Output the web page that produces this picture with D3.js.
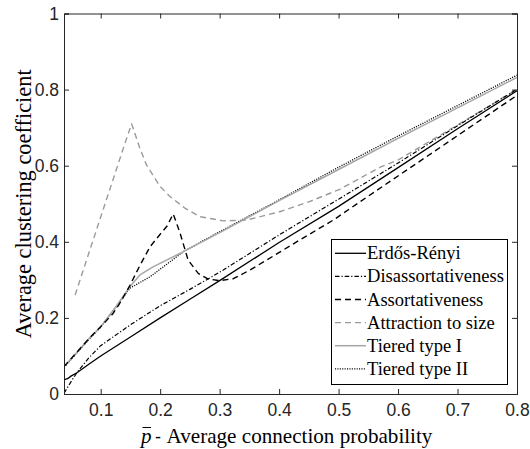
<!DOCTYPE html>
<html>
<head>
<meta charset="utf-8">
<script src="https://cdn.jsdelivr.net/npm/d3@7"></script>
<style>
  html, body { margin: 0; padding: 0; background: #fff; }
  svg { display: block; }
</style>
</head>
<body>
<svg id="chart" width="530" height="449"></svg>
<script>
// Average clustering coefficient against average connection probability
const xTicks = [0.1, 0.2, 0.3, 0.4, 0.5, 0.6, 0.7, 0.8];
const yTicks = [0, 0.2, 0.4, 0.6, 0.8, 1];
const xTickLabels = ["0.1", "0.2", "0.3", "0.4", "0.5", "0.6", "0.7", "0.8"];
const yTickLabels = ["0", "0.2", "0.4", "0.6", "0.8", "1"];

const seriesNames = ["Erdős-Rényi", "Disassortativeness", "Assortativeness",
                     "Attraction to size", "Tiered type I", "Tiered type II"];

const erP = [0.0383, 0.045, 0.05, 0.06, 0.08, 0.1, 0.15, 0.2, 0.25, 0.3, 0.4, 0.5, 0.6, 0.7, 0.8];
const erC = [0.037, 0.041, 0.047, 0.056, 0.078, 0.1, 0.15, 0.2, 0.249, 0.298, 0.398, 0.493, 0.595, 0.697, 0.797];

const disP = [0.0383, 0.05, 0.06, 0.08, 0.1, 0.15, 0.2, 0.25, 0.3, 0.4, 0.5, 0.6, 0.7, 0.8];
const disC = [0.002, 0.032, 0.056, 0.095, 0.127, 0.182, 0.232, 0.275, 0.32, 0.418, 0.512, 0.607, 0.705, 0.801];

const assP = [0.0383, 0.06, 0.08, 0.1, 0.12, 0.13, 0.14, 0.149, 0.165, 0.183, 0.2, 0.211, 0.222,
              0.233, 0.247, 0.264, 0.281, 0.3, 0.323, 0.35, 0.379, 0.435, 0.491, 0.55, 0.6, 0.7, 0.8];
const assC = [0.072, 0.11, 0.145, 0.177, 0.21, 0.233, 0.26, 0.285, 0.335, 0.387, 0.42, 0.44, 0.473,
              0.425, 0.352, 0.317, 0.302, 0.298, 0.303, 0.325, 0.352, 0.405, 0.457, 0.52, 0.573, 0.679, 0.785];

const attP = [0.057, 0.08, 0.1, 0.12, 0.14, 0.152, 0.165, 0.177, 0.2, 0.2165, 0.242, 0.267, 0.306,
              0.345, 0.401, 0.45, 0.502, 0.57, 0.6, 0.7, 0.8];
const attC = [0.26, 0.37, 0.465, 0.56, 0.655, 0.71, 0.65, 0.602, 0.545, 0.519, 0.488, 0.466, 0.455,
              0.457, 0.479, 0.505, 0.538, 0.596, 0.615, 0.707, 0.801];

const t1P = [0.0383, 0.06, 0.08, 0.1, 0.125, 0.149, 0.166, 0.188, 0.239, 0.3, 0.4, 0.5, 0.6, 0.7, 0.8];
const t1C = [0.072, 0.11, 0.145, 0.177, 0.228, 0.282, 0.313, 0.334, 0.374, 0.424, 0.508, 0.59, 0.672, 0.752, 0.832];

const t2P = [0.0383, 0.06, 0.08, 0.1, 0.125, 0.149, 0.183, 0.239, 0.284, 0.4, 0.5, 0.6, 0.7, 0.8];
const t2C = [0.070, 0.108, 0.143, 0.176, 0.227, 0.278, 0.308, 0.374, 0.413, 0.51, 0.596, 0.678, 0.758, 0.838];

const svg = d3.select("#chart");
const margin = { left: 64, right: 13, top: 13.5, bottom: 55 };
const W = 530, H = 449;
const x0 = margin.left, x1 = W - margin.right;
const y0 = H - margin.bottom, y1 = margin.top;

const x = d3.scaleLinear().domain([0.0383, 0.8]).range([x0, x1]);
const y = d3.scaleLinear().domain([0, 1]).range([y0, y1]);

const axisColor = "#262626";
const tickLen = 5;
const serif = "'Liberation Serif'";
const sans = "'Liberation Sans'";

// scale a text element's font size so that it spans the given width
function fitWidth(sel, width, baseSize) {
  sel.style("font-size", baseSize + "px");
  const w = sel.node().getComputedTextLength();
  const size = w > 0 ? baseSize * width / w : baseSize;
  sel.style("font-size", size + "px");
  return size;
}

svg.append("defs").append("clipPath").attr("id", "plotClip")
  .append("rect").attr("x", x0).attr("y", y1).attr("width", x1 - x0).attr("height", y0 - y1);

const series = [
  { name: seriesNames[0], p: erP,  c: erC,  stroke: "#000", width: 1.3, dash: null },
  { name: seriesNames[1], p: disP, c: disC, stroke: "#000", width: 1.2, dash: "4.5,2,1.2,2" },
  { name: seriesNames[2], p: assP, c: assC, stroke: "#000", width: 1.4, dash: "6,4" },
  { name: seriesNames[3], p: attP, c: attC, stroke: "#9a9a9a", width: 1.4, dash: "6,4" },
  { name: seriesNames[4], p: t1P,  c: t1C,  stroke: "#a6a6a6", width: 1.5, dash: null },
  { name: seriesNames[5], p: t2P,  c: t2C,  stroke: "#000", width: 1.3, dash: "1.1,1.3" }
];

const line = d3.line().x(d => x(d[0])).y(d => y(d[1]));

const plot = svg.append("g").attr("clip-path", "url(#plotClip)");
// draw in reverse order so the first series sits on top
series.slice().reverse().forEach(s => {
  plot.append("path")
    .attr("d", line(s.p.map((p, i) => [p, s.c[i]])))
    .attr("fill", "none")
    .attr("stroke", s.stroke)
    .attr("stroke-width", s.width)
    .attr("stroke-dasharray", s.dash)
    .attr("stroke-linejoin", "round");
});

// axes (box with inward ticks on all four sides)
const axBottom = d3.axisBottom(x).tickValues(xTicks).tickSize(-tickLen)
  .tickFormat((d, i) => xTickLabels[i]).tickPadding(10);
const axTop = d3.axisTop(x).tickValues(xTicks).tickSize(-tickLen).tickFormat("");
const axLeft = d3.axisLeft(y).tickValues(yTicks).tickSize(-tickLen)
  .tickFormat((d, i) => yTickLabels[i]).tickPadding(5);
const axRight = d3.axisRight(y).tickValues(yTicks).tickSize(-tickLen).tickFormat("");

function styleAxis(g) {
  g.select(".domain").attr("stroke", axisColor).attr("stroke-width", 1);
  g.selectAll(".tick line").attr("stroke", axisColor).attr("stroke-width", 1);
  g.selectAll(".tick text").attr("fill", axisColor)
    .style("font-family", sans).style("font-size", "17.5px");
}

svg.append("g").attr("transform", `translate(0,${y0})`).call(axBottom).call(styleAxis)
  .selectAll(".tick text").attr("dy", "0.71em");
svg.append("g").attr("transform", `translate(0,${y1})`).call(axTop).call(styleAxis);
svg.append("g").attr("transform", `translate(${x0},0)`).call(axLeft).call(styleAxis);
svg.append("g").attr("transform", `translate(${x1},0)`).call(axRight).call(styleAxis);

// x axis label: p-bar, dash, then the words
const xWords = svg.append("text")
  .attr("x", 166.5).attr("y", 443)
  .style("font-family", serif).attr("fill", "#000")
  .text("Average connection probability");
const labelSize = fitWidth(xWords, 266, 19);
svg.append("text")
  .attr("x", 141).attr("y", 443)
  .style("font-family", serif).style("font-size", labelSize + "px").style("font-style", "italic")
  .attr("fill", "#000").text("p");
svg.append("line")
  .attr("x1", 142.5).attr("x2", 151).attr("y1", 427.5).attr("y2", 427.5)
  .attr("stroke", "#000").attr("stroke-width", 1);
svg.append("text")
  .attr("x", 155).attr("y", 443)
  .style("font-family", sans).style("font-size", "18px").attr("fill", "#000").text("-");

// y axis label
const yLabel = svg.append("text")
  .attr("transform", `translate(31,${(y0 + y1) / 2}) rotate(-90)`)
  .attr("text-anchor", "middle")
  .style("font-family", serif).attr("fill", "#000")
  .text("Average clustering coefficient");
fitWidth(yLabel, 269, 19);

// legend
const lg = { x: 331, y: 239, w: 176, h: 145, row0: 253.3, rowStep: 23.1 };
const legend = svg.append("g");
legend.append("rect")
  .attr("x", lg.x + 0.5).attr("y", lg.y + 0.5).attr("width", lg.w).attr("height", lg.h)
  .attr("fill", "#fff").attr("stroke", "#000").attr("stroke-width", 1);

const legendTexts = [];
series.forEach((s, i) => {
  const yy = lg.row0 + i * lg.rowStep;
  legend.append("line")
    .attr("x1", lg.x + 4).attr("x2", lg.x + 35).attr("y1", yy).attr("y2", yy)
    .attr("stroke", s.stroke).attr("stroke-width", s.width)
    .attr("stroke-dasharray", s.dash);
  legendTexts.push(legend.append("text")
    .attr("x", lg.x + 36).attr("y", yy + 6)
    .style("font-family", serif).attr("fill", "#000")
    .text(s.name));
});
// size legend text from its widest entry
const legendSize = fitWidth(legendTexts[1], 137, 18);
legendTexts.forEach(t => t.style("font-size", legendSize + "px"));
</script>
</body>
</html>
